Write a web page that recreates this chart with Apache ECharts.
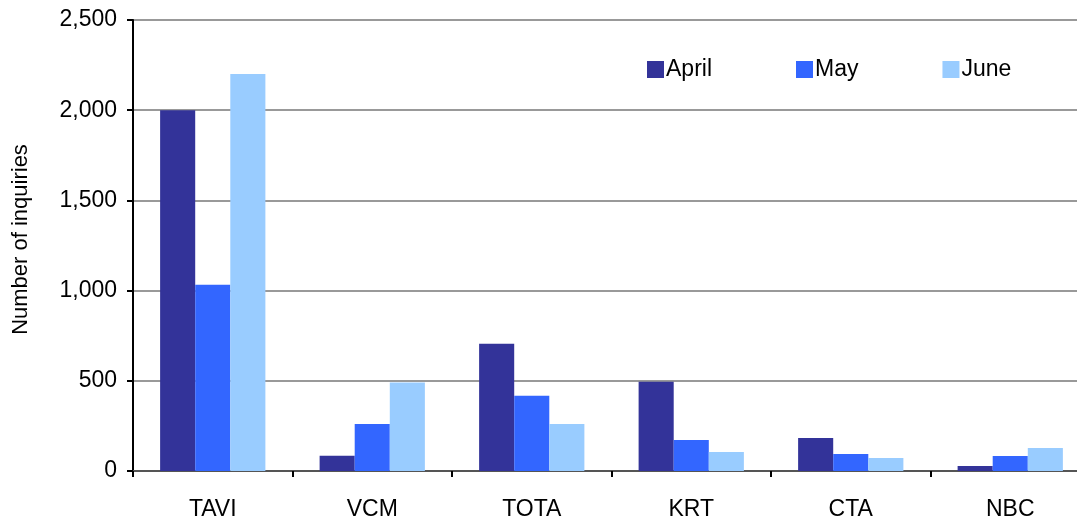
<!DOCTYPE html>
<html>
<head>
    <meta charset="utf-8">
    <title>Inquiries</title>
    <script src="https://cdn.jsdelivr.net/npm/echarts@6/dist/echarts.min.js"></script>
    <style>
        html, body { margin: 0; padding: 0; background: #fff; }
        #main { width: 1077px; height: 520px; }
    </style>
</head>
<body>
<div id="main"></div>
<script type="text/javascript">
    // data
    var categories = ['TAVI', 'VCM', 'TOTA', 'KRT', 'CTA', 'NBC'];
    var april = [2000, 85, 705, 495, 183, 28];
    var may = [1033, 261, 417, 172, 94, 83];
    var june = [2200, 490, 261, 106, 72, 128];
    var months = ['April', 'May', 'June'];
    var colors = ['#333399', '#3366FF', '#99CCFF'];

    var myChart = echarts.init(document.getElementById('main'));
    var font = 'Liberation Sans, Arial, sans-serif';

    function bar(name, data) {
        return {
            name: name,
            type: 'bar',
            data: data,
            barGap: '0%',
            barCategoryGap: '34%',
            animation: false
        };
    }

    var option = {
        color: colors,
        textStyle: { fontFamily: font },
        legend: {
            data: months,
            left: 642,
            top: 53,
            itemWidth: 17,
            itemHeight: 17,
            itemGap: 84,
            icon: 'rect',
            textStyle: { fontSize: 23, color: '#000', fontFamily: font, padding: [0, 0, 0, -3] }
        },
        grid: { left: 133, width: 957, top: 20, bottom: 49, outerBoundsMode: 'none' },
        xAxis: {
            type: 'category',
            data: categories,
            axisLine: { lineStyle: { color: '#555', width: 2 } },
            axisTick: { show: true, length: 6, lineStyle: { color: '#000', width: 2 } },
            axisLabel: { fontSize: 23, color: '#000', margin: 27, fontFamily: font }
        },
        yAxis: {
            type: 'value',
            min: 0,
            max: 2500,
            interval: 500,
            name: 'Number of inquiries',
            nameLocation: 'middle',
            nameGap: 101,
            nameTextStyle: { fontSize: 22, color: '#000', fontFamily: font, padding: [0, 0, 0, 12] },
            axisLine: { show: true, lineStyle: { color: '#000', width: 2 } },
            axisTick: { show: true, length: 6, lineStyle: { color: '#000', width: 2 } },
            axisLabel: {
                fontSize: 23, color: '#000', margin: 16, fontFamily: font,
                formatter: function (v) { return v.toLocaleString('en-US'); }
            },
            splitLine: { lineStyle: { color: '#999', width: 2 } }
        },
        series: [
            bar(months[0], april),
            bar(months[1], may),
            bar(months[2], june)
        ]
    };
    myChart.setOption(option);
</script>
</body>
</html>
